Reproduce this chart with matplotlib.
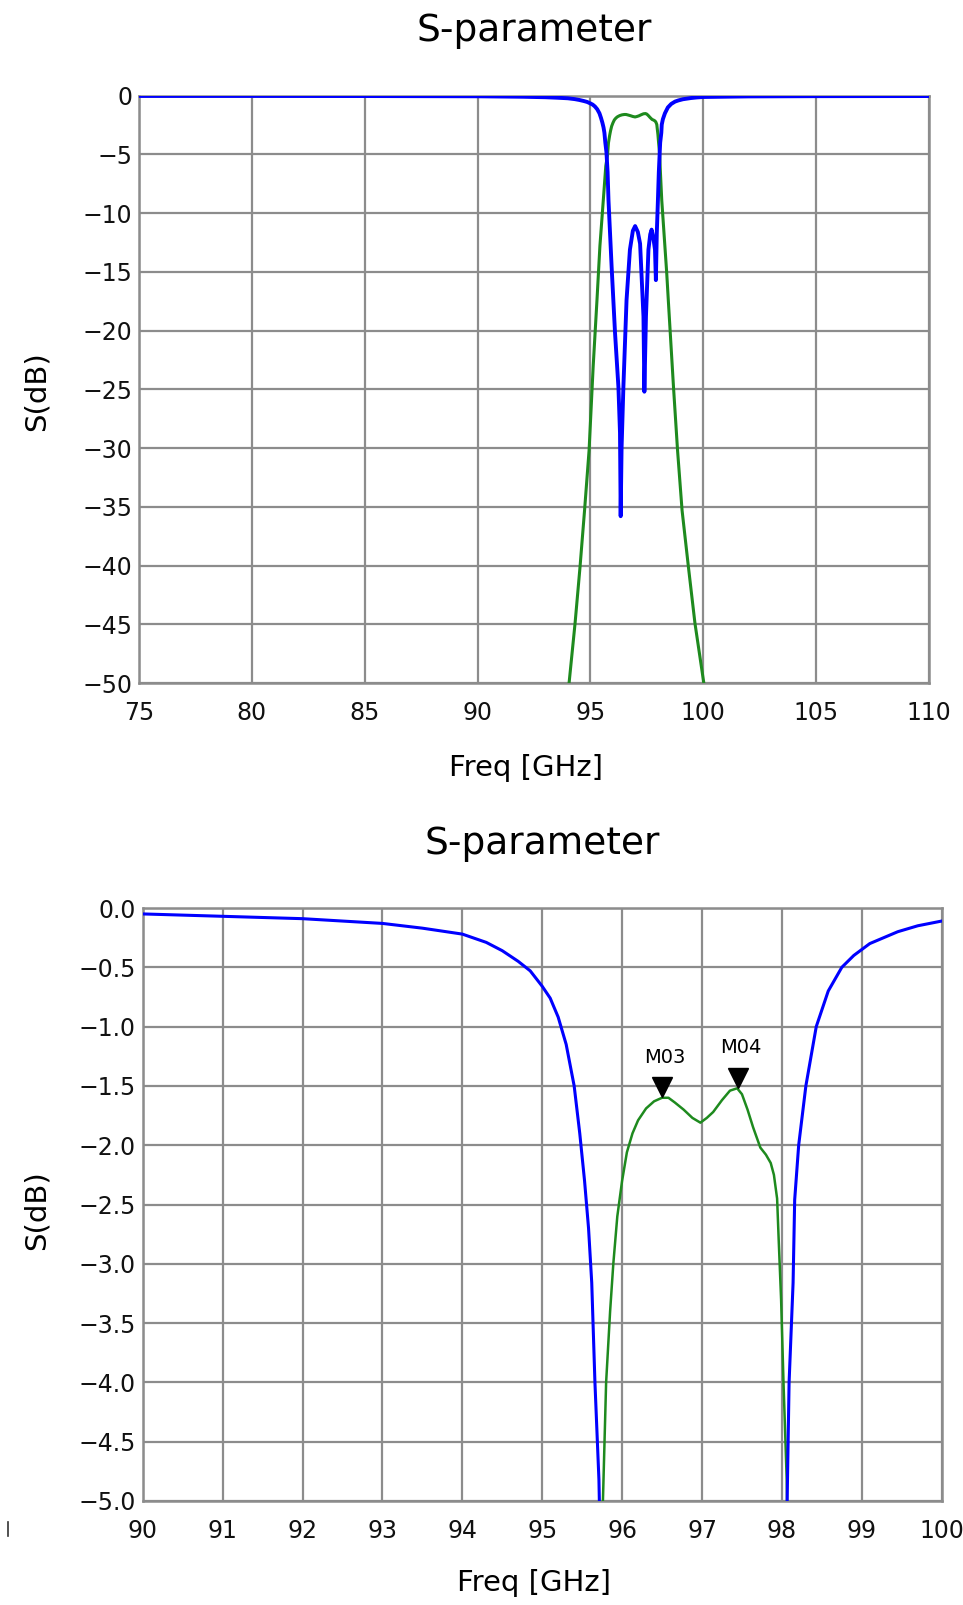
import matplotlib
matplotlib.use("Agg")
import matplotlib.pyplot as plt
import matplotlib.transforms as mtransforms
from matplotlib.lines import Line2D

# ---------------- data ----------------
# S11 (reflection, blue)
s11_freq = [75.0, 80.0, 85.0, 90.0, 91.0, 92.0, 93.0, 93.5, 94.0, 94.3, 94.5, 94.7,
            94.85, 95.0, 95.1, 95.2, 95.3, 95.4, 95.47, 95.53, 95.58, 95.62, 95.66,
            95.71, 95.76, 95.8, 95.94, 96.09, 96.24, 96.31, 96.34, 96.38, 96.46, 96.6,
            96.75, 96.88, 96.98, 97.1, 97.2, 97.35, 97.39, 97.46, 97.57, 97.65, 97.71,
            97.78, 97.86, 97.9, 97.94, 97.99, 98.03, 98.07, 98.09, 98.14, 98.16, 98.21,
            98.3, 98.43, 98.58, 98.75, 98.9, 99.1, 99.45, 99.7, 100.0, 102.0, 105.0,
            110.0]
s11_db = [-0.02, -0.02, -0.03, -0.05, -0.07, -0.09, -0.13, -0.17, -0.22, -0.29, -0.36, -0.45,
          -0.53, -0.66, -0.76, -0.92, -1.15, -1.5, -1.9, -2.3, -2.7, -3.16, -4.0,
          -4.82, -6.5, -8.9, -14.6, -20.2, -24.8, -28.7, -35.8, -30.0, -24.8, -17.4,
          -13.1, -11.5, -11.1, -11.6, -12.6, -18.8, -25.2, -18.8, -13.1, -11.8, -11.4,
          -12.0, -13.1, -15.7, -11.7, -8.9, -6.5, -4.82, -4.0, -3.16, -2.46, -2.0,
          -1.5, -1.0, -0.7, -0.5, -0.4, -0.3, -0.2, -0.15, -0.11, -0.06, -0.04,
          -0.03]

# S21 (transmission, green)
s21_freq = [94.0, 94.07, 94.32, 94.54, 94.74, 94.94, 95.12, 95.29, 95.42, 95.57, 95.68,
            95.76, 95.8, 95.85, 95.89, 95.94, 96.0, 96.06, 96.13, 96.2, 96.3, 96.4,
            96.5, 96.58, 96.66, 96.77, 96.88, 96.98, 97.06, 97.14, 97.25, 97.35, 97.44,
            97.5, 97.57, 97.64, 97.73, 97.8, 97.86, 97.9, 97.94, 97.96, 97.99, 98.02,
            98.06, 98.1, 98.16, 98.38, 98.45, 98.68, 98.86, 99.06, 99.34, 99.63, 100.0,
            100.1]
s21_db = [-51.0, -49.7, -44.9, -40.1, -35.3, -30.2, -23.1, -17.4, -12.8, -8.9, -6.0,
          -5.0, -4.0, -3.4, -3.0, -2.6, -2.3, -2.06, -1.9, -1.79, -1.69, -1.63,
          -1.60, -1.60, -1.64, -1.70, -1.77, -1.81, -1.77, -1.72, -1.62, -1.54, -1.52,
          -1.57, -1.70, -1.85, -2.02, -2.08, -2.15, -2.25, -2.45, -2.8, -3.3, -4.0,
          -4.82, -6.5, -8.9, -15.1, -17.4, -24.8, -30.2, -35.3, -40.1, -44.9, -49.7,
          -51.0]

# markers
marker_names = ["M03", "M04"]
marker_freq = [96.5, 97.45]
marker_db = [-1.60, -1.52]

# axis ticks
top_xticks = [75, 80, 85, 90, 95, 100, 105, 110]
top_yticks = [0, -5, -10, -15, -20, -25, -30, -35, -40, -45, -50]
bot_xticks = [90, 91, 92, 93, 94, 95, 96, 97, 98, 99, 100]
bot_yticks = [0.0, -0.5, -1.0, -1.5, -2.0, -2.5, -3.0, -3.5, -4.0, -4.5, -5.0]

# ---------------- styling ----------------
plt.rcParams['font.family'] = ['DejaVu Sans']
plt.rcParams['axes.unicode_minus'] = True

W, H = 963, 1605
fig = plt.figure(figsize=(W / 100, H / 100), dpi=100)

GRID = "#8c8c8c"
BLUE = "#0000ff"
GREEN = "#1e8a1e"
TICK_FS = 17
LABEL_FS = 21
TITLE_FS = 27


def style_axes(ax):
    for sp in ax.spines.values():
        sp.set_color(GRID)
        sp.set_linewidth(1.8)
    ax.grid(True, color=GRID, linewidth=1.6)
    ax.set_axisbelow(True)
    ax.tick_params(length=0, labelsize=TICK_FS, colors="#111111")
    ax.tick_params(axis="x", pad=13)
    ax.tick_params(axis="y", pad=5)


# ---- top axes ----
ax1 = fig.add_axes([139 / W, 1 - 683 / H, 790 / W, 587.3 / H])
style_axes(ax1)
ax1.plot(s21_freq, s21_db, color=GREEN, linewidth=2.2, zorder=3)
ax1.plot(s11_freq, s11_db, color=BLUE, linewidth=2.8, zorder=4)
ax1.set_xlim(75, 110)
ax1.set_ylim(-50, 0)
ax1.set_xticks(top_xticks)
ax1.set_xticklabels([str(t) for t in top_xticks])
ax1.set_yticks(top_yticks)
ax1.set_yticklabels([f"{t:d}".replace("-", "\u2212") for t in top_yticks])
ax1.set_title("S-parameter", fontsize=TITLE_FS, y=1 + (95.7 - 31) / 587.3, va="center", pad=0)
ax1.set_xlabel("Freq [GHz]", fontsize=LABEL_FS)
ax1.xaxis.set_label_coords(0.5 - 8 / 790, 1 - (768 - 95.7) / 587.3)
ax1.xaxis.label.set_va("center")
ax1.set_ylabel("S(dB)", fontsize=LABEL_FS)
ax1.yaxis.set_label_coords(-(139 - 37) / 790, 0.5 - 2 / 587.3)
ax1.yaxis.label.set_va("center")

# ---- bottom axes ----
ax2 = fig.add_axes([142.7 / W, 1 - 1501 / H, 799 / W, 593 / H])
style_axes(ax2)
ax2.plot(s21_freq, s21_db, color=GREEN, linewidth=1.8, zorder=3)
ax2.plot(s11_freq, s11_db, color=BLUE, linewidth=2.2, zorder=4)
ax2.set_xlim(90, 100)
ax2.set_ylim(-5, 0)
ax2.set_xticks(bot_xticks)
ax2.set_xticklabels([str(t) for t in bot_xticks])
ax2.set_yticks(bot_yticks)
ax2.set_yticklabels([f"{t:.1f}".replace("-", "\u2212") for t in bot_yticks])
ax2.set_title("S-parameter", fontsize=TITLE_FS, y=1 + (908 - 844) / 593, va="center", pad=0)
ax2.set_xlabel("Freq [GHz]", fontsize=LABEL_FS)
ax2.xaxis.set_label_coords(0.5 - 8 / 799, -(1583 - 1501) / 593)
ax2.xaxis.label.set_va("center")
ax2.set_ylabel("S(dB)", fontsize=LABEL_FS)
ax2.yaxis.set_label_coords(-(142.7 - 37) / 799, 0.5 - 6 / 593)
ax2.yaxis.label.set_va("center")

# markers: triangles with tip on the curve, labels above
tri_ms = 15
tri_trans = mtransforms.offset_copy(ax2.transData, fig=fig, y=tri_ms * 0.5, units="points")
ax2.plot(marker_freq, marker_db, linestyle="none", marker="v", markersize=tri_ms,
         color="black", transform=tri_trans, zorder=6, clip_on=False)
for name, f, d in zip(marker_names, marker_freq, marker_db):
    ax2.annotate(name, xy=(f, d), xytext=(2, 29), textcoords="offset points",
                 ha="center", va="center", fontsize=14, color="black", zorder=7)

# small stray mark at lower left of the reference
fig.add_artist(Line2D([7.5 / W, 7.5 / W], [1 - 1522 / H, 1 - 1536 / H],
                      color="#333333", linewidth=1.2))

fig.savefig("out.png", dpi=100, facecolor="white")
